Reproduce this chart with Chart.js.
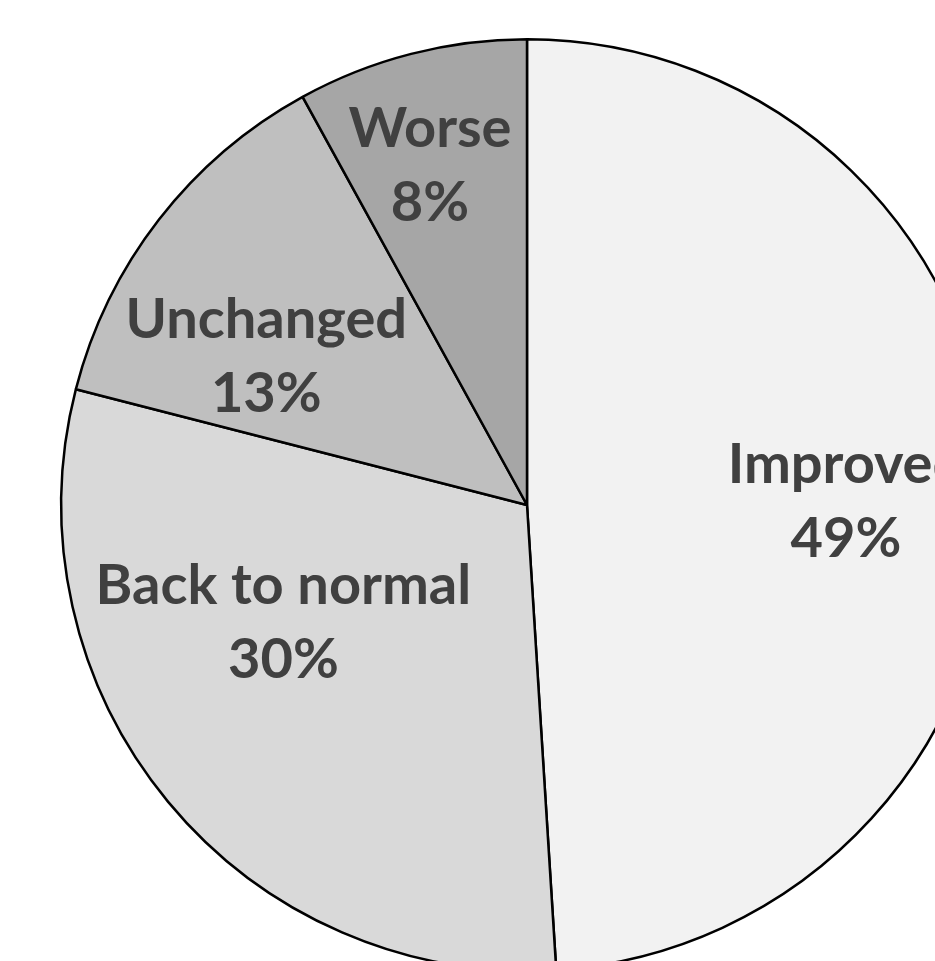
<!DOCTYPE html>
<html>
<head>
<meta charset="utf-8">
<script src="https://cdn.jsdelivr.net/npm/chart.js@4"></script>
<style>
  html, body { margin: 0; padding: 0; background: #ffffff; overflow: hidden; }
  #wrap { width: 935px; height: 961px; overflow: hidden; position: relative; }
  canvas { position: absolute; left: 0; top: 0; }
</style>
</head>
<body>
<div id="wrap"><canvas id="pie" width="1054" height="1010"></canvas></div>
<script>
// Outcome shares, clockwise from 12 o'clock
const categories = ['Improved', 'Back to normal', 'Unchanged', 'Worse'];
const shares = [49, 30, 13, 8];
const sliceColors = ['#f2f2f2', '#d9d9d9', '#bfbfbf', '#a6a6a6'];

// Label placement: angle shift (deg) from the slice mid-angle and radial fraction
const labelAngleShift = [1, 14, -8, -1.5];
const labelRadius = [0.685, 0.58, 0.645, 0.76];

const sliceLabels = {
  id: 'sliceLabels',
  afterDatasetsDraw(chart) {
    const ctx = chart.ctx;
    const meta = chart.getDatasetMeta(0);
    ctx.save();
    ctx.fillStyle = '#404040';
    ctx.font = 'bold 56px Lato, "Open Sans", sans-serif';
    ctx.textAlign = 'center';
    ctx.textBaseline = 'alphabetic';
    meta.data.forEach((arc, i) => {
      const p = arc.getProps(['x', 'y', 'startAngle', 'endAngle', 'outerRadius'], true);
      const a = (p.startAngle + p.endAngle) / 2 + labelAngleShift[i] * Math.PI / 180;
      const r = p.outerRadius * labelRadius[i];
      const cx = p.x + Math.cos(a) * r;
      const cy = p.y + Math.sin(a) * r;
      ctx.fillText(categories[i], cx, cy - 37 + 19);
      ctx.fillText(shares[i] + '%', cx, cy + 37 + 19);
    });
    ctx.restore();
  }
};

new Chart(document.getElementById('pie'), {
  type: 'pie',
  data: {
    labels: categories,
    datasets: [{
      data: shares,
      backgroundColor: sliceColors,
      borderColor: '#000000',
      borderWidth: 2.5,
      hoverOffset: 0
    }]
  },
  options: {
    responsive: false,
    animation: false,
    layout: { padding: { left: 60, right: 60, top: 37, bottom: 37 } },
    plugins: {
      legend: { display: false },
      tooltip: { enabled: false }
    }
  },
  plugins: [sliceLabels]
});
</script>
</body>
</html>
